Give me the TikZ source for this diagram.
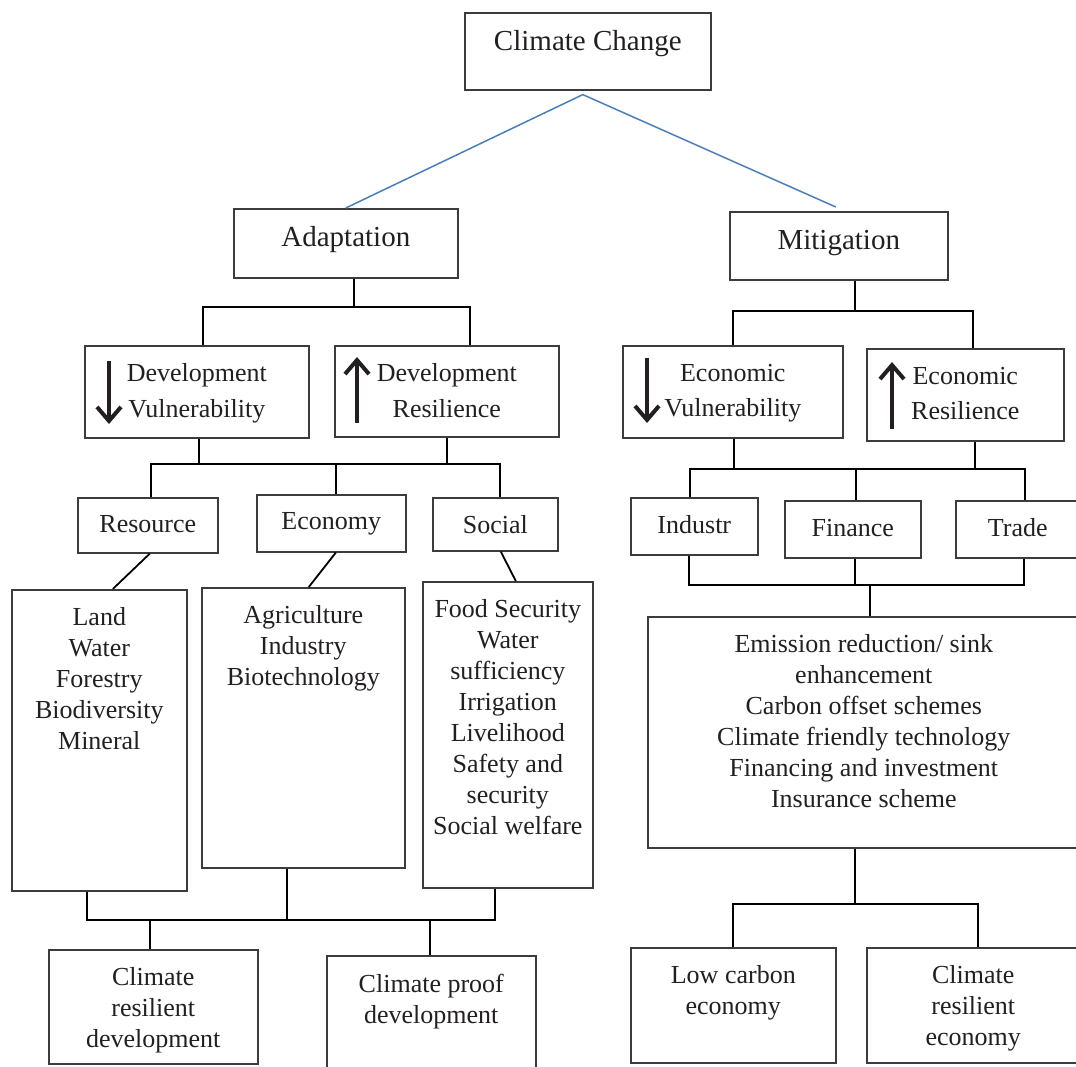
\documentclass[tikz,border=0pt]{standalone}
\usepackage{fontspec}
\setmainfont{Liberation Serif}
\usepackage{tikz}
\usetikzlibrary{calc}
\usetikzlibrary{arrows.meta}
\definecolor{wordblue}{RGB}{74,126,187}
\definecolor{boxline}{RGB}{60,60,60}
\definecolor{inkblack}{RGB}{35,31,32}

\tikzset{
    box/.style 2 args={draw=boxline, line width=1.6pt, inner sep=0pt, anchor=north west,
        text=inkblack, font=\fontsize{26}{31}\selectfont,
        execute at begin node={\begin{minipage}[t][#2pt][t]{#1pt}\centering\vspace*{18pt}},
        execute at end node={\end{minipage}}},
    bigbox/.style 2 args={box={#1}{#2}, font=\fontsize{29}{35}\selectfont},
    arrowbox/.style 2 args={box={#1}{#2}, font=\fontsize{26}{35.5}\selectfont},
    link/.style={line width=1.8pt, black},
    bluelink/.style={line width=1.5pt, wordblue},
    updown/.style={line width=4pt, inkblack, -{Straight Barb[length=14pt, width=24pt]}},
}

\begin{document}
\begin{tikzpicture}[x=1pt, y=-1pt]
    \useasboundingbox (0,0) rectangle (1076,1066);

    \node[bigbox={246}{77}] (cc) at (464,12) {Climate Change};
    \node[bigbox={224}{69}] (adapt) at (233,208) {Adaptation};
    \node[bigbox={218}{68}] (mitig) at (729,211) {Mitigation};

    \node[arrowbox={224}{92}] (devv) at (84,345) {Development\\Vulnerability};
    \node[arrowbox={224}{91}] (devr) at (334,345) {Development\\Resilience};
    \node[arrowbox={220}{92}] (ecov) at (622,345) {Economic\\Vulnerability};
    \node[arrowbox={197}{92}] (ecor) at (866,348) {Economic\\Resilience};

    \node[box={140}{55}] (res) at (77,497) {Resource};
    \node[box={149}{57}] (eco) at (256,494) {Economy};
    \node[box={125}{53}] (soc) at (432,497) {Social};
    \node[box={127}{57}] (ind) at (630,497) {Industr};
    \node[box={136}{57}] (fin) at (784,500) {Finance};
    \node[box={124}{57}] (trd) at (955,500) {Trade};

    \node[box={175}{301}] (land) at (11,589) {Land\\Water\\Forestry\\Biodiversity\\Mineral};
    \node[box={203}{280}] (agri) at (201,587) {Agriculture\\Industry\\Biotechnology};
    \node[box={170}{306}] (food) at (422,581) {Food Security\\Water\\sufficiency\\Irrigation\\Livelihood\\Safety and\\security\\Social welfare};
    \node[box={432}{231}] (emis) at (647,616) {Emission reduction/ sink\\enhancement\\Carbon offset schemes\\Climate friendly technology\\Financing and investment\\Insurance scheme};

    \node[box={209}{114}] (crd) at (48,949) {Climate\\resilient\\development};
    \node[box={209}{115}] (cpd) at (326,955) {Climate proof\\development};
    \node[box={205}{115}] (lce) at (630,947) {Low carbon\\economy};
    \node[box={213}{115}] (cre) at (866,947) {Climate\\resilient\\economy};

    % up and down arrows inside the boxes
    \draw[updown] ($(devv.north west)+(25,16)$) -- ($(devv.north west)+(25,79)$);
    \draw[updown] ($(devr.north west)+(23,78)$) -- ($(devr.north west)+(23,12)$);
    \draw[updown] ($(ecov.north west)+(25,13)$) -- ($(ecov.north west)+(25,78)$);
    \draw[updown] ($(ecor.north west)+(26,81)$) -- ($(ecor.north west)+(26,14)$);

    \draw[bluelink] ($(cc.south)+(-5,4)$) -- (adapt.north);
    \draw[bluelink] ($(cc.south)+(-5,4)$) -- ($(mitig.north)+(-3,-4)$);

    \coordinate (barA) at (0,307);
    \coordinate (barB) at (0,464);
    \coordinate (barC) at (0,920);
    \coordinate (barD) at (0,311);
    \coordinate (barE) at (0,469);
    \coordinate (barF) at (0,585);
    \coordinate (barG) at (0,904);

    % adaptation side
    \draw[link] ([xshift=8pt]adapt.south) -- ([xshift=8pt]adapt.south |- barA);
    \draw[link] ([xshift=6pt]devv.north) |- ([xshift=23pt]devr.north |- barA) -- ([xshift=23pt]devr.north);
    \draw[link] ([xshift=2pt]devv.south) -- ([xshift=2pt]devv.south |- barB);
    \draw[link] (devr.south) -- (devr.south |- barB);
    \draw[link] ([xshift=3pt]res.north) |- ([xshift=4.5pt]soc.north |- barB) -- ([xshift=4.5pt]soc.north);
    \draw[link] ([xshift=4.5pt]eco.north) -- ([xshift=4.5pt]eco.north |- barB);
    \draw[link] ([xshift=2pt]res.south) -- ([xshift=13.5pt]land.north);
    \draw[link] ([xshift=4.5pt]eco.south) -- ([xshift=5.5pt]agri.north);
    \draw[link] ([xshift=5.5pt]soc.south) -- ([xshift=8pt]food.north);
    \draw[link] ([xshift=-12.5pt]land.south) |- ([xshift=-13pt]food.south |- barC) -- ([xshift=-13pt]food.south);
    \draw[link] ([xshift=-16.5pt]agri.south) -- ([xshift=-16.5pt]agri.south |- barC);
    \draw[link] ([xshift=-3.5pt]crd.north) -- ([xshift=-3.5pt]crd.north |- barC);
    \draw[link] ([xshift=-1.5pt]cpd.north) -- ([xshift=-1.5pt]cpd.north |- barC);

    % mitigation side
    \draw[link] ([xshift=16pt]mitig.south) -- ([xshift=16pt]mitig.south |- barD);
    \draw[link] (ecov.north) |- ([xshift=7.5pt]ecor.north |- barD) -- ([xshift=7.5pt]ecor.north);
    \draw[link] ([xshift=1pt]ecov.south) -- ([xshift=1pt]ecov.south |- barE);
    \draw[link] ([xshift=9.5pt]ecor.south) -- ([xshift=9.5pt]ecor.south |- barE);
    \draw[link] ([xshift=-4.5pt]ind.north) |- ([xshift=7pt]trd.north |- barE) -- ([xshift=7pt]trd.north);
    \draw[link] ([xshift=3pt]fin.north) -- ([xshift=3pt]fin.north |- barE);
    \draw[link] ([xshift=-5.5pt]ind.south) |- ([xshift=6pt]trd.south |- barF) -- ([xshift=6pt]trd.south);
    \draw[link] ([xshift=2pt]fin.south) -- ([xshift=2pt]fin.south |- barF);
    \draw[link] ([xshift=6pt]emis.north) -- ([xshift=6pt]emis.north |- barF);
    \draw[link] ([xshift=-9pt]emis.south) -- ([xshift=-9pt]emis.south |- barG);
    \draw[link] (lce.north) |- ([xshift=4.5pt]cre.north |- barG) -- ([xshift=4.5pt]cre.north);
\end{tikzpicture}
\end{document}
